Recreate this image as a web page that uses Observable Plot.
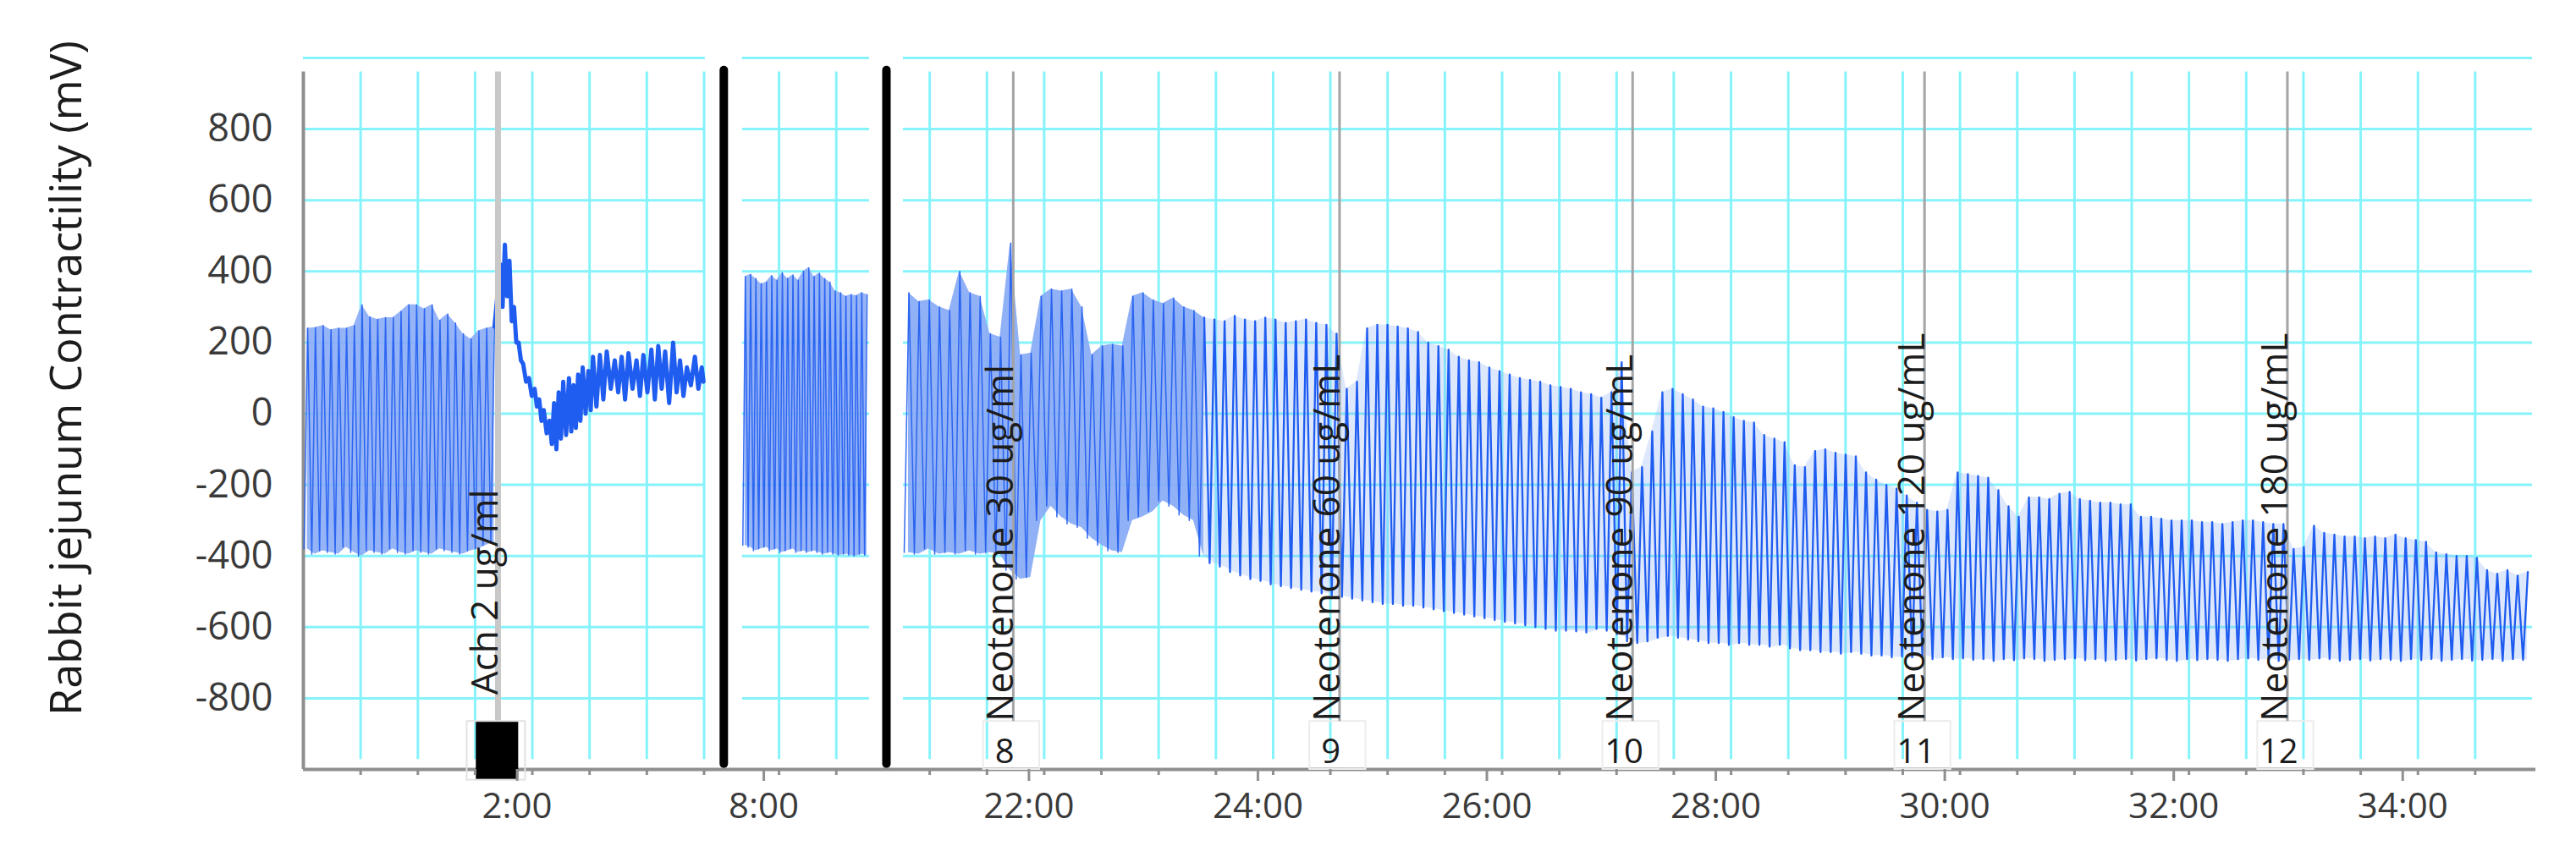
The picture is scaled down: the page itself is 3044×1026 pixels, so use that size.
<!DOCTYPE html>
<html><head><meta charset="utf-8">
<script src="https://cdn.jsdelivr.net/npm/d3@7"></script>
<script src="https://cdn.jsdelivr.net/npm/@observablehq/plot@0.6"></script>
<style>html,body{margin:0;padding:0;background:#fff}</style>
</head><body><div id="chart"></div>
<script>
// ---------------- data ----------------
const yTitle = "Rabbit jejunum Contractility (mV)";
const yTicks = [800, 600, 400, 200, 0, -200, -400, -600, -800];
const gridValues = [1000, 800, 600, 400, 200, 0, -200, -400, -600, -800];
const xTickTimes = [2, 8, 22, 24, 26, 28, 30, 32, 34];           // minutes
const xTickLabels = ["2:00", "8:00", "22:00", "24:00", "26:00", "28:00", "30:00", "32:00", "34:00"];

// recorded pieces of the time axis (minutes) and the blank gap between them
const segStart = [0, 7.68, 20.77];
const segEnd = [3.51, 8.79, 35.0];
const breakGap = [0.325, 0.296];

// comments / event markers
const eventTimes = [1.70, 21.73, 24.58, 27.14, 29.69, 32.86];
const eventLabels = ["Ach 2 ug/ml", "Neotenone 30 ug/ml", "Neotenone 60 ug/mL", "Neotenone 90 ug/mL", "Neotenone 120 ug/mL", "Neotenone 180 ug/mL"];
const eventNumbers = ["", "8", "9", "10", "11", "12"];

// piece 1, before Ach (0:00 - 1:42): contraction peaks and troughs (mV)
const preAchPeaks = [240, 242, 248, 236, 240, 240, 248, 306, 272, 265, 270, 270, 287, 306, 306, 295, 306, 262, 280, 255, 225, 210, 233, 240, 245];
const preAchTroughs = [-380, -395, -385, -390, -395, -375, -390, -400, -385, -390, -395, -380, -390, -395, -385, -390, -395, -380, -385, -390, -395, -385, -380, -370, -360];

// piece 1, after Ach: time (min), high and low of each small wave (mV)
const postAchTimes = [1.72, 1.76, 1.80, 1.84, 1.88, 1.92, 1.97, 2.02, 2.06, 2.10, 2.15, 2.19, 2.23, 2.27, 2.32, 2.36, 2.40, 2.44, 2.49, 2.53, 2.59, 2.65, 2.72, 2.78, 2.84, 2.91, 2.97, 3.04, 3.10, 3.16, 3.23, 3.29, 3.35, 3.42, 3.48];
const postAchHigh = [420, 475, 430, 300, 200, 140, 100, 70, 40, 10, -20, 30, 60, 90, 100, 80, 110, 130, 120, 160, 165, 175, 150, 160, 170, 150, 165, 180, 190, 175, 200, 150, 130, 160, 130];
const postAchLow = [300, 330, 260, 200, 150, 90, 50, 20, -20, -55, -85, -100, -70, -60, -50, -40, -20, 0, 10, 20, 40, 70, 60, 40, 70, 50, 60, 40, 70, 30, 60, 50, 80, 70, 90];

// piece 2 (7:41 - 8:47)
const seg2Peaks = [385, 392, 380, 365, 370, 388, 375, 396, 380, 390, 375, 400, 410, 385, 395, 380, 370, 345, 340, 330, 335, 332, 340, 335];
const seg2Troughs = [-370, -375, -385, -380, -375, -385, -380, -390, -385, -380, -390, -385, -390, -385, -390, -395, -390, -395, -398, -395, -398, -400, -395, -398];

// piece 3 (20:46 - 35:00)
const seg3Peaks = [
  340, 315, 320, 300, 290, 400, 340, 330, 225, 215,
  480, 165, 170, 330, 350, 345, 350, 300, 165, 190,
  195, 190, 330, 340, 320, 310, 325, 300, 290, 270,
  265, 260, 275, 265, 260, 270, 265, 255, 260, 265,
  255, 250, 225, 70, 90, 240, 250, 250, 245, 240,
  230, 200, 190, 180, 160, 150, 145, 130, 120, 110,
  100, 95, 90, 80, 75, 70, 60, 55, 45, 60,
  145, -165, -150, -50, 60, 70, 55, 40, 20, 15,
  5, -10, -20, -25, -60, -70, -80, -145, -150, -105,
  -100, -110, -115, -120, -165, -185, -200, -210, -230, -250,
  -270, -275, -270, -165, -170, -175, -180, -215, -260, -290,
  -235, -235, -240, -225, -220, -240, -245, -250, -250, -255,
  -255, -290, -290, -295, -300, -300, -300, -305, -305, -310,
  -305, -300, -300, -305, -310, -310, -380, -375, -315, -335,
  -340, -345, -345, -350, -345, -350, -340, -350, -355, -360,
  -390, -395, -400, -400, -405, -440, -450, -440, -455, -445];
const seg3Troughs = [
  -390, -395, -380, -395, -390, -395, -385, -395, -390, -395,
  -440, -465, -460, -300, -260, -290, -310, -320, -350, -370,
  -385, -390, -300, -290, -275, -245, -260, -285, -300, -400,
  -420, -430, -445, -455, -465, -470, -480, -485, -490, -495,
  -500, -505, -510, -515, -520, -525, -530, -535, -535, -540,
  -540, -545, -550, -555, -560, -565, -570, -575, -580, -585,
  -590, -595, -600, -605, -610, -610, -612, -615, -605, -610,
  -620, -640, -645, -640, -630, -625, -630, -635, -640, -645,
  -645, -650, -645, -650, -650, -655, -650, -660, -665, -665,
  -670, -670, -675, -670, -675, -680, -680, -685, -683, -685,
  -680, -690, -685, -690, -688, -692, -690, -695, -690, -693,
  -688, -690, -695, -692, -690, -688, -693, -690, -695, -692,
  -690, -694, -690, -688, -692, -695, -690, -693, -690, -692,
  -695, -690, -688, -692, -690, -695, -693, -690, -692, -688,
  -690, -695, -692, -690, -694, -690, -692, -695, -690, -693,
  -690, -695, -692, -690, -694, -692, -690, -695, -690, -692];
const seg3DenseUntil = 23.35; // before this the trace prints as a filled band

// ---------------- layout ----------------
const W = 3044, H = 1026, ML = 358, MR = 52, MT = 68, MB = 117;
const cyan = "#86f3fb", axisGray = "#8f8f8f", traceBlue = "#1f5cf0", bandBlue = "#8aabf6";
const gridTop = 961, gridBottom = -972, barTop = 965, barBottom = -985;
const textBase = -865, achTextBase = -790, numberY = -952;

// piecewise time -> page position (minutes of page)
const uStart = [0];
for (let k = 1; k < segStart.length; k++) uStart[k] = uStart[k - 1] + (segEnd[k - 1] - segStart[k - 1]) + breakGap[k - 1];
function toU(t) {
  let k = 0;
  for (let j = 0; j < segStart.length; j++) if (t >= segStart[j] - 1e-9) k = j;
  return uStart[k] + (t - segStart[k]);
}
const uEnd = toU(segEnd[segEnd.length - 1]);
const breaks = uStart.slice(1).map((u, k) => u - breakGap[k] / 2);

// trace points
const trace = [], bands = [];
function addCycles(start, end, peaks, troughs, piece, denseUntil) {
  const n = peaks.length, P = (end - start) / n;
  for (let i = 0; i < n; i++) {
    const t0 = start + i * P;
    const dense = t0 < denseUntil;
    trace.push({u: toU(t0 + 0.08 * P), v: troughs[i], piece, dense});
    trace.push({u: toU(t0 + 0.55 * P), v: peaks[i], piece, dense});
    bands.push({u: toU(t0 + 0.5 * P), lo: troughs[i], hi: peaks[i], piece, dense});
  }
}
addCycles(segStart[0], eventTimes[0], preAchPeaks, preAchTroughs, "s1", Infinity);
const post = [];
postAchTimes.forEach((t, j) => {
  const next = j + 1 < postAchTimes.length ? postAchTimes[j + 1] : segEnd[0];
  post.push({u: toU(t), v: postAchHigh[j]});
  post.push({u: toU((t + next) / 2), v: postAchLow[j]});
});
const lastPre = trace[trace.length - 1];
const postLine = [lastPre, ...post];
addCycles(segStart[1], segEnd[1], seg2Peaks, seg2Troughs, "s2", Infinity);
addCycles(segStart[2], segEnd[2], seg3Peaks, seg3Troughs, "s3", seg3DenseUntil);
// split trace: dense part (thin lines over band) and open part (bolder spikes); share the joining point
const firstOpen = trace.findIndex(d => !d.dense);
const denseTrace = trace.filter(d => d.dense);
const openTrace = [trace[firstOpen - 1], ...trace.filter(d => !d.dense)];

// grid
const hGrid = [];
segStart.forEach((s, k) => gridValues.forEach(v => hGrid.push({v, u1: toU(s), u2: toU(segEnd[k])})));
const halfMinutes = [];
segStart.forEach((s, k) => {
  for (let t = Math.ceil(s * 2) / 2; t < segEnd[k] - 0.004; t += 0.5) if (t > s + 0.01) halfMinutes.push(toU(t));
});
const majorU = xTickTimes.map(toU);
const labelOf = new Map(majorU.map((u, i) => [u, xTickLabels[i]]));

const events = eventTimes.map((t, i) => ({u: toU(t), t, label: eventLabels[i], num: eventNumbers[i], ach: i === 0}));

const chart = Plot.plot({
  width: W, height: H,
  marginLeft: ML, marginRight: MR, marginTop: MT, marginBottom: MB,
  x: {domain: [0, uEnd], label: null},
  y: {domain: [-1000, 1000], label: null},
  style: {fontFamily: "'Open Sans', sans-serif", background: "#fff", color: "#3a3a3a", overflow: "visible"},
  marks: [
    Plot.ruleY(hGrid, {y: "v", x1: "u1", x2: "u2", stroke: cyan, strokeWidth: 3}),
    Plot.ruleX(halfMinutes, {x: d => d, y1: gridBottom, y2: gridTop, stroke: cyan, strokeWidth: 3}),
    Plot.ruleX([0], {y1: -1000, y2: gridTop, stroke: axisGray, strokeWidth: 4}),
    Plot.ruleY([-1000], {x1: 0, x2: uEnd + 0.03, stroke: axisGray, strokeWidth: 4}),
    // faint event boxes
    Plot.rect(events.filter(d => !d.ach), {x1: d => toU(d.t - 0.26), x2: d => toU(d.t + 0.23), y1: -1000, y2: textBase, stroke: "#ececec", strokeWidth: 2, fill: "none"}),
    // trace
    Plot.areaY(bands.filter(d => d.dense), {x: "u", y1: "lo", y2: "hi", z: "piece", fill: bandBlue, fillOpacity: 0.9}),
    Plot.areaY(bands.filter(d => d.piece === "s3"), {x: "u", y1: "lo", y2: "hi", fill: bandBlue, fillOpacity: 0.28}),
    Plot.line(denseTrace, {x: "u", y: "v", z: "piece", stroke: traceBlue, strokeWidth: 1.5, strokeOpacity: 0.9}),
    Plot.line(openTrace, {x: "u", y: "v", stroke: traceBlue, strokeWidth: 2.3}),
    Plot.line(postLine, {x: "u", y: "v", stroke: traceBlue, strokeWidth: 5, strokeLinejoin: "round"}),
    // event lines
    Plot.ruleX(events, {x: "u", y1: textBase, y2: gridTop, stroke: d => d.ach ? "#c8c8c8" : "#a4a4a4", strokeWidth: d => d.ach ? 7 : 3}),
    Plot.rect(events.filter(d => d.ach), {x1: d => toU(d.t - 0.19), x2: d => toU(d.t + 0.18), y1: -1030, y2: textBase, fill: "#000"}),
    Plot.rect(events.filter(d => d.ach), {x1: d => toU(d.t - 0.27), x2: d => toU(d.t + 0.24), y1: -1030, y2: textBase, stroke: "#e2e2e2", strokeWidth: 2, fill: "none"}),
    // break bars
    Plot.ruleX(breaks, {x: d => d, y1: barBottom, y2: barTop, stroke: "#000", strokeWidth: 10, strokeLinecap: "round"}),
    // event texts
    Plot.text(events, {x: "u", y: d => d.ach ? achTextBase : textBase, text: "label", rotate: -90, textAnchor: "start", lineAnchor: "bottom", fontSize: 44, fill: "#1c1c1c"}),
    Plot.text(events.filter(d => d.num), {x: d => toU(d.t - 0.075), y: numberY, text: "num", fontSize: 40, fill: "#1c1c1c"}),
    // axes
    Plot.axisX({ticks: halfMinutes, tickSize: 7, tickFormat: () => "", stroke: axisGray, strokeWidth: 3}),
    Plot.axisX({ticks: majorU, tickSize: 14, tickPadding: 14, tickFormat: d => labelOf.get(d), stroke: axisGray, strokeWidth: 3, fontSize: 42, dx: -18, fill: "#3a3a3a"}),
    Plot.axisY({ticks: yTicks, tickSize: 0, tickPadding: 36, tickFormat: d => String(d), fontSize: 45, fill: "#3a3a3a"}),
    Plot.text([yTitle], {frameAnchor: "left", textAnchor: "middle", dx: -279, dy: -42, rotate: -90, fontSize: 52, fill: "#1c1c1c"})
  ]
});
document.getElementById("chart").appendChild(chart);
</script>
</body></html>
